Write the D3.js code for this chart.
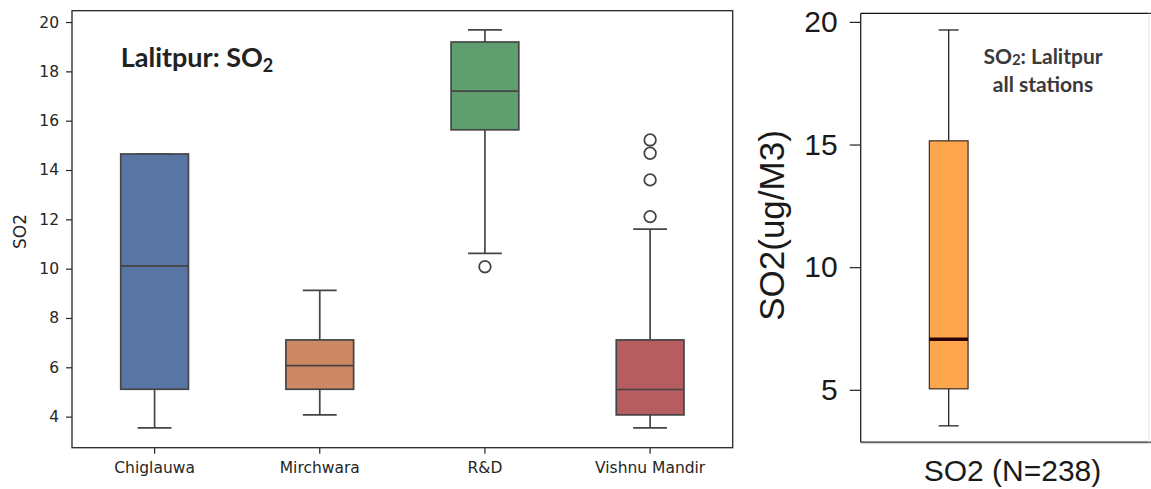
<!DOCTYPE html>
<html><head><meta charset="utf-8">
<script src="https://cdn.jsdelivr.net/npm/d3@7"></script>
<style>body{margin:0;background:#fff} svg{display:block}</style>
</head><body>
<svg id="c" width="1151" height="489"></svg>
<script>
// ---- data: left panel (per station) ----
const stations = ["Chiglauwa", "Mirchwara", "R&D", "Vishnu Mandir"];
const whiskerLow  = [3.54, 4.07, 10.62, 3.54];
const q1          = [5.11, 5.11, 15.63, 4.07];
const median      = [10.11, 6.07, 17.20, 5.10];
const q3          = [14.65, 7.11, 19.19, 7.11];
const whiskerHigh = [14.65, 9.12, 19.68, 11.60];
const outliers    = [[], [], [10.08], [12.11, 13.60, 14.68, 15.22]];
const stationColors = ["#5975a4", "#cc8963", "#5f9e6e", "#b55d60"];
const leftTicks = [4, 6, 8, 10, 12, 14, 16, 18, 20];

// ---- data: right panel (all stations) ----
const allCategory = ["SO2 (N=238)"];
const allStats = [3.53, 5.04, 7.06, 15.15, 19.67]; // low whisker, Q1, median, Q3, high whisker
const rightTicks = [5, 10, 15, 20];

const svg = d3.select("#c");

// ================= LEFT PANEL =================
const L = {left: 72, right: 732.7, top: 10.7, bottom: 447.7};
const x = d3.scaleBand().domain(stations).range([L.left, L.right]);
const y = d3.scaleLinear().domain([2.74, 20.46]).range([L.bottom, L.top]);
const ink = "#262626", boxLine = "#454545";
const dj = "'DejaVu Sans', sans-serif";

const gl = svg.append("g");
stations.forEach((s, i) => {
  const cx = x(s) + x.bandwidth() / 2;
  const bw = x.bandwidth() * 0.41;
  const g = gl.append("g").attr("stroke", boxLine).attr("stroke-width", 1.7);
  g.append("line").attr("x1", cx).attr("x2", cx).attr("y1", y(q3[i])).attr("y2", y(whiskerHigh[i]));
  g.append("line").attr("x1", cx).attr("x2", cx).attr("y1", y(q1[i])).attr("y2", y(whiskerLow[i]));
  g.append("line").attr("x1", cx - bw / 4).attr("x2", cx + bw / 4).attr("y1", y(whiskerHigh[i])).attr("y2", y(whiskerHigh[i]));
  g.append("line").attr("x1", cx - bw / 4).attr("x2", cx + bw / 4).attr("y1", y(whiskerLow[i])).attr("y2", y(whiskerLow[i]));
  g.append("rect").attr("x", cx - bw / 2).attr("width", bw)
    .attr("y", y(q3[i])).attr("height", y(q1[i]) - y(q3[i]))
    .attr("fill", stationColors[i]);
  g.append("line").attr("x1", cx - bw / 2).attr("x2", cx + bw / 2).attr("y1", y(median[i])).attr("y2", y(median[i]));
  g.selectAll("circle").data(outliers[i]).join("circle")
    .attr("cx", cx).attr("cy", d => y(d)).attr("r", 5.8).attr("fill", "none").attr("stroke-width", 1.8);
});

// frame
svg.append("rect").attr("x", L.left).attr("y", L.top).attr("width", L.right - L.left).attr("height", L.bottom - L.top)
  .attr("fill", "none").attr("stroke", ink).attr("stroke-width", 1.3);

const ay = svg.append("g").attr("transform", `translate(${L.left},0)`)
  .call(d3.axisLeft(y).tickValues(leftTicks).tickSize(6).tickPadding(7));
ay.select(".domain").remove();
ay.selectAll("line").attr("stroke", ink).attr("stroke-width", 1.2);
ay.selectAll("text").attr("font-family", dj).attr("font-size", 15.5).attr("fill", ink);

const ax = svg.append("g").attr("transform", `translate(0,${L.bottom})`)
  .call(d3.axisBottom(x).tickSize(6).tickPadding(8));
ax.select(".domain").remove();
ax.selectAll("line").attr("stroke", ink).attr("stroke-width", 1.2);
ax.selectAll("text").attr("font-family", dj).attr("font-size", 15.5).attr("fill", ink);

svg.append("text").attr("transform", "translate(20,231.5) rotate(-90)").attr("dy", "0.36em")
  .attr("text-anchor", "middle").attr("font-family", dj).attr("font-size", 17).attr("fill", ink).text("SO2");

const t1 = svg.append("text").attr("x", 120.7).attr("y", 66.5)
  .attr("font-family", "Lato, sans-serif").attr("font-weight", "bold").attr("font-size", 27).attr("fill", "#222");
t1.append("tspan").text("Lalitpur: SO");
t1.append("tspan").attr("font-size", 18).attr("dy", 5).text("2");

// ================= RIGHT PANEL =================
const R = {left: 860.7, right: 1151, top: 13.3, bottom: 442.3};
const x2 = d3.scaleBand().domain(allCategory).range([R.left, R.left + 176]);
const y2 = d3.scaleLinear().domain([2.86, 20.35]).range([R.bottom, R.top]);
const ar = "'Liberation Sans', Arial, sans-serif";

svg.append("line").attr("x1", R.left).attr("x2", R.right).attr("y1", R.top).attr("y2", R.top).attr("stroke", "#111").attr("stroke-width", 1.3);
svg.append("line").attr("x1", R.left).attr("x2", R.right).attr("y1", R.bottom).attr("y2", R.bottom).attr("stroke", "#666").attr("stroke-width", 2);
svg.append("line").attr("x1", R.left).attr("x2", R.left).attr("y1", R.top).attr("y2", R.bottom).attr("stroke", "#222").attr("stroke-width", 1.3);
svg.append("line").attr("x1", 1149).attr("x2", 1149).attr("y1", R.top).attr("y2", R.bottom).attr("stroke", "#e4e4e4").attr("stroke-width", 1);

const cx2 = x2(allCategory[0]) + x2.bandwidth() / 2;
const bw2 = x2.bandwidth() * 0.22;
const gr = svg.append("g").attr("stroke", "#111").attr("stroke-width", 1.2);
gr.append("line").attr("x1", cx2).attr("x2", cx2).attr("y1", y2(allStats[3])).attr("y2", y2(allStats[4]));
gr.append("line").attr("x1", cx2).attr("x2", cx2).attr("y1", y2(allStats[1])).attr("y2", y2(allStats[0]));
gr.append("line").attr("x1", cx2 - 10).attr("x2", cx2 + 10).attr("y1", y2(allStats[4])).attr("y2", y2(allStats[4]));
gr.append("line").attr("x1", cx2 - 10).attr("x2", cx2 + 10).attr("y1", y2(allStats[0])).attr("y2", y2(allStats[0]));
gr.append("rect").attr("x", cx2 - bw2 / 2).attr("width", bw2)
  .attr("y", y2(allStats[3])).attr("height", y2(allStats[1]) - y2(allStats[3]))
  .attr("fill", "#fda64e").attr("stroke", "#3a2a20");
gr.append("line").attr("x1", cx2 - bw2 / 2).attr("x2", cx2 + bw2 / 2).attr("y1", y2(allStats[2])).attr("y2", y2(allStats[2]))
  .attr("stroke", "#2b0303").attr("stroke-width", 3.5);

const ay2 = svg.append("g").attr("transform", `translate(${R.left},0)`)
  .call(d3.axisLeft(y2).tickValues(rightTicks).tickSize(11).tickPadding(12));
ay2.select(".domain").remove();
ay2.selectAll("line").attr("stroke", "#222").attr("stroke-width", 1.2);
ay2.selectAll("text").attr("font-family", ar).attr("font-size", 30).attr("fill", "#1a1a1a");

svg.append("text").attr("transform", "translate(771.7,225.5) rotate(-90)").attr("dy", "0.36em")
  .attr("text-anchor", "middle").attr("font-family", ar).attr("font-size", 35).attr("fill", "#1a1a1a").text("SO2(ug/M3)");

svg.append("text").attr("x", 1012.5).attr("y", 481).attr("text-anchor", "middle")
  .attr("font-family", ar).attr("font-size", 30).attr("fill", "#1a1a1a").text(allCategory[0]);

const n1 = svg.append("text").attr("x", 1043).attr("y", 64.3).attr("text-anchor", "middle")
  .attr("font-family", "Lato, sans-serif").attr("font-weight", "bold").attr("font-size", 21).attr("fill", "#3a3a3a");
n1.append("tspan").text("SO");
n1.append("tspan").attr("font-size", 15).attr("dy", 1).text("2");
n1.append("tspan").attr("dy", -1).text(": Lalitpur");
svg.append("text").attr("x", 1043).attr("y", 91.5).attr("text-anchor", "middle")
  .attr("font-family", "Lato, sans-serif").attr("font-weight", "bold").attr("font-size", 21).attr("fill", "#3a3a3a")
  .text("all stations");
</script>
</body></html>
